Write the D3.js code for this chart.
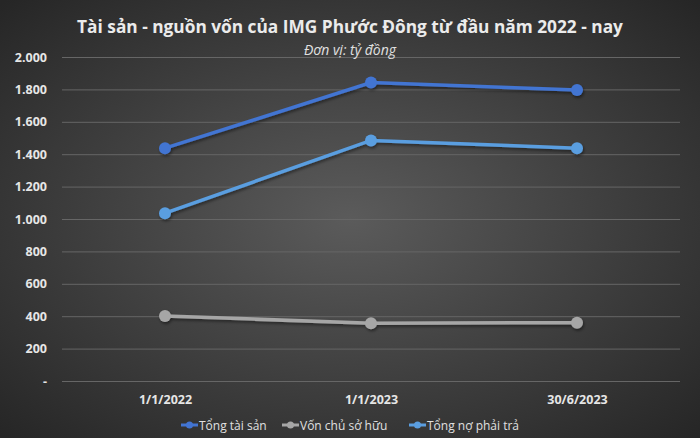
<!DOCTYPE html>
<html>
<head>
<meta charset="utf-8">
<script src="https://cdn.jsdelivr.net/npm/d3@7"></script>
<style>
  html, body { margin: 0; padding: 0; background: #333; }
  svg { display: block; }
  text { font-family: "Open Sans", "Noto Sans", sans-serif; }
</style>
</head>
<body>
<svg id="chart" width="700" height="438"></svg>
<script>
// data (tỷ đồng)
const dates = ['1/1/2022', '1/1/2023', '30/6/2023'];
const tongTaiSan = [1437, 1842, 1797];
const vonChuSoHuu = [401, 357, 360];
const tongNoPhaiTra = [1036, 1485, 1437];
const yTicks = [0, 200, 400, 600, 800, 1000, 1200, 1400, 1600, 1800, 2000];

const series = [
  {name: 'Tổng tài sản', values: tongTaiSan, color: '#4274d2'},
  {name: 'Vốn chủ sở hữu', values: vonChuSoHuu, color: '#a6a6a6'},
  {name: 'Tổng nợ phải trả', values: tongNoPhaiTra, color: '#5a9ee0'}
];

const W = 700, H = 438;
const margin = {left: 62, right: 20, top: 57, bottom: 57};
const svg = d3.select('#chart');

// background
let defs = svg.append('defs');
let grad = defs.append('radialGradient').attr('id', 'bg')
  .attr('cx', '50%').attr('cy', '50%').attr('r', '70%');
grad.append('stop').attr('offset', '0%').attr('stop-color', '#5b5b5b');
grad.append('stop').attr('offset', '100%').attr('stop-color', '#262626');
let shadow = defs.append('filter').attr('id', 'shadow')
  .attr('x', '-20%').attr('y', '-20%').attr('width', '140%').attr('height', '140%');
shadow.append('feDropShadow').attr('dx', 1).attr('dy', 2).attr('stdDeviation', 1.5)
  .attr('flood-color', '#000').attr('flood-opacity', 0.45);

svg.append('rect').attr('width', W).attr('height', H).attr('fill', 'url(#bg)');

const x = d3.scalePoint().domain(dates)
  .range([margin.left, W - margin.right]).padding(0.5);
const y = d3.scaleLinear().domain([0, 2000]).range([H - margin.bottom, margin.top]);

const fmt = d => d === 0 ? '-' : d3.format(',')(d).replace(/,/g, '.');

// grid
svg.append('g').selectAll('line').data(yTicks).enter().append('line')
  .attr('x1', margin.left).attr('x2', W - margin.right)
  .attr('y1', d => y(d) + 0.5).attr('y2', d => y(d) + 0.5)
  .attr('stroke', '#666').attr('stroke-width', 1);

// y axis
let yAxis = svg.append('g')
  .attr('transform', `translate(${margin.left - 15},0)`)
  .call(d3.axisLeft(y).tickValues(yTicks).tickFormat(fmt).tickSize(0).tickPadding(0));
yAxis.select('.domain').remove();
yAxis.selectAll('text').attr('fill', '#e6e6e6').attr('font-size', 12.5)
  .attr('font-weight', 'bold').attr('font-family', '"Open Sans", sans-serif');

// x axis
let xAxis = svg.append('g')
  .attr('transform', `translate(0,${H - margin.bottom + 14})`)
  .call(d3.axisBottom(x).tickSize(0).tickPadding(0));
xAxis.select('.domain').remove();
xAxis.selectAll('text').attr('fill', '#e6e6e6').attr('font-size', 12.5)
  .attr('font-weight', 'bold').attr('font-family', '"Open Sans", sans-serif');

// lines
const line = d3.line().x((d, i) => x(dates[i])).y(d => y(d));
let sg = svg.append('g').attr('filter', 'url(#shadow)');
series.forEach(s => {
  sg.append('path').datum(s.values)
    .attr('d', line).attr('fill', 'none')
    .attr('stroke', s.color).attr('stroke-width', 3.5);
  sg.selectAll(null).data(s.values).enter().append('circle')
    .attr('cx', (d, i) => x(dates[i])).attr('cy', d => y(d))
    .attr('r', 6).attr('fill', s.color);
});

// title
svg.append('text').attr('x', W / 2).attr('y', 33).attr('text-anchor', 'middle')
  .attr('fill', '#ebebeb').attr('font-size', 17.3).attr('font-weight', 'bold')
  .text('Tài sản - nguồn vốn của IMG Phước Đông từ đầu năm 2022 - nay');
svg.append('text').attr('x', W / 2).attr('y', 55).attr('text-anchor', 'middle')
  .attr('fill', '#e0e0e0').attr('font-size', 14).attr('font-style', 'italic')
  .text('Đơn vị: tỷ đồng');

// legend
const legendX = [181, 282, 409];
let lg = svg.append('g');
series.forEach((s, i) => {
  let g = lg.append('g').attr('transform', `translate(${legendX[i]},425)`);
  g.append('line').attr('x1', 0).attr('x2', 17).attr('y1', 0).attr('y2', 0)
    .attr('stroke', s.color).attr('stroke-width', 3);
  g.append('circle').attr('cx', 8.5).attr('cy', 0).attr('r', 3.5).attr('fill', s.color);
  g.append('text').attr('x', 18).attr('y', 4.5)
    .attr('fill', '#e0e0e0').attr('font-size', 12).text(s.name);
});
</script>
</body>
</html>
